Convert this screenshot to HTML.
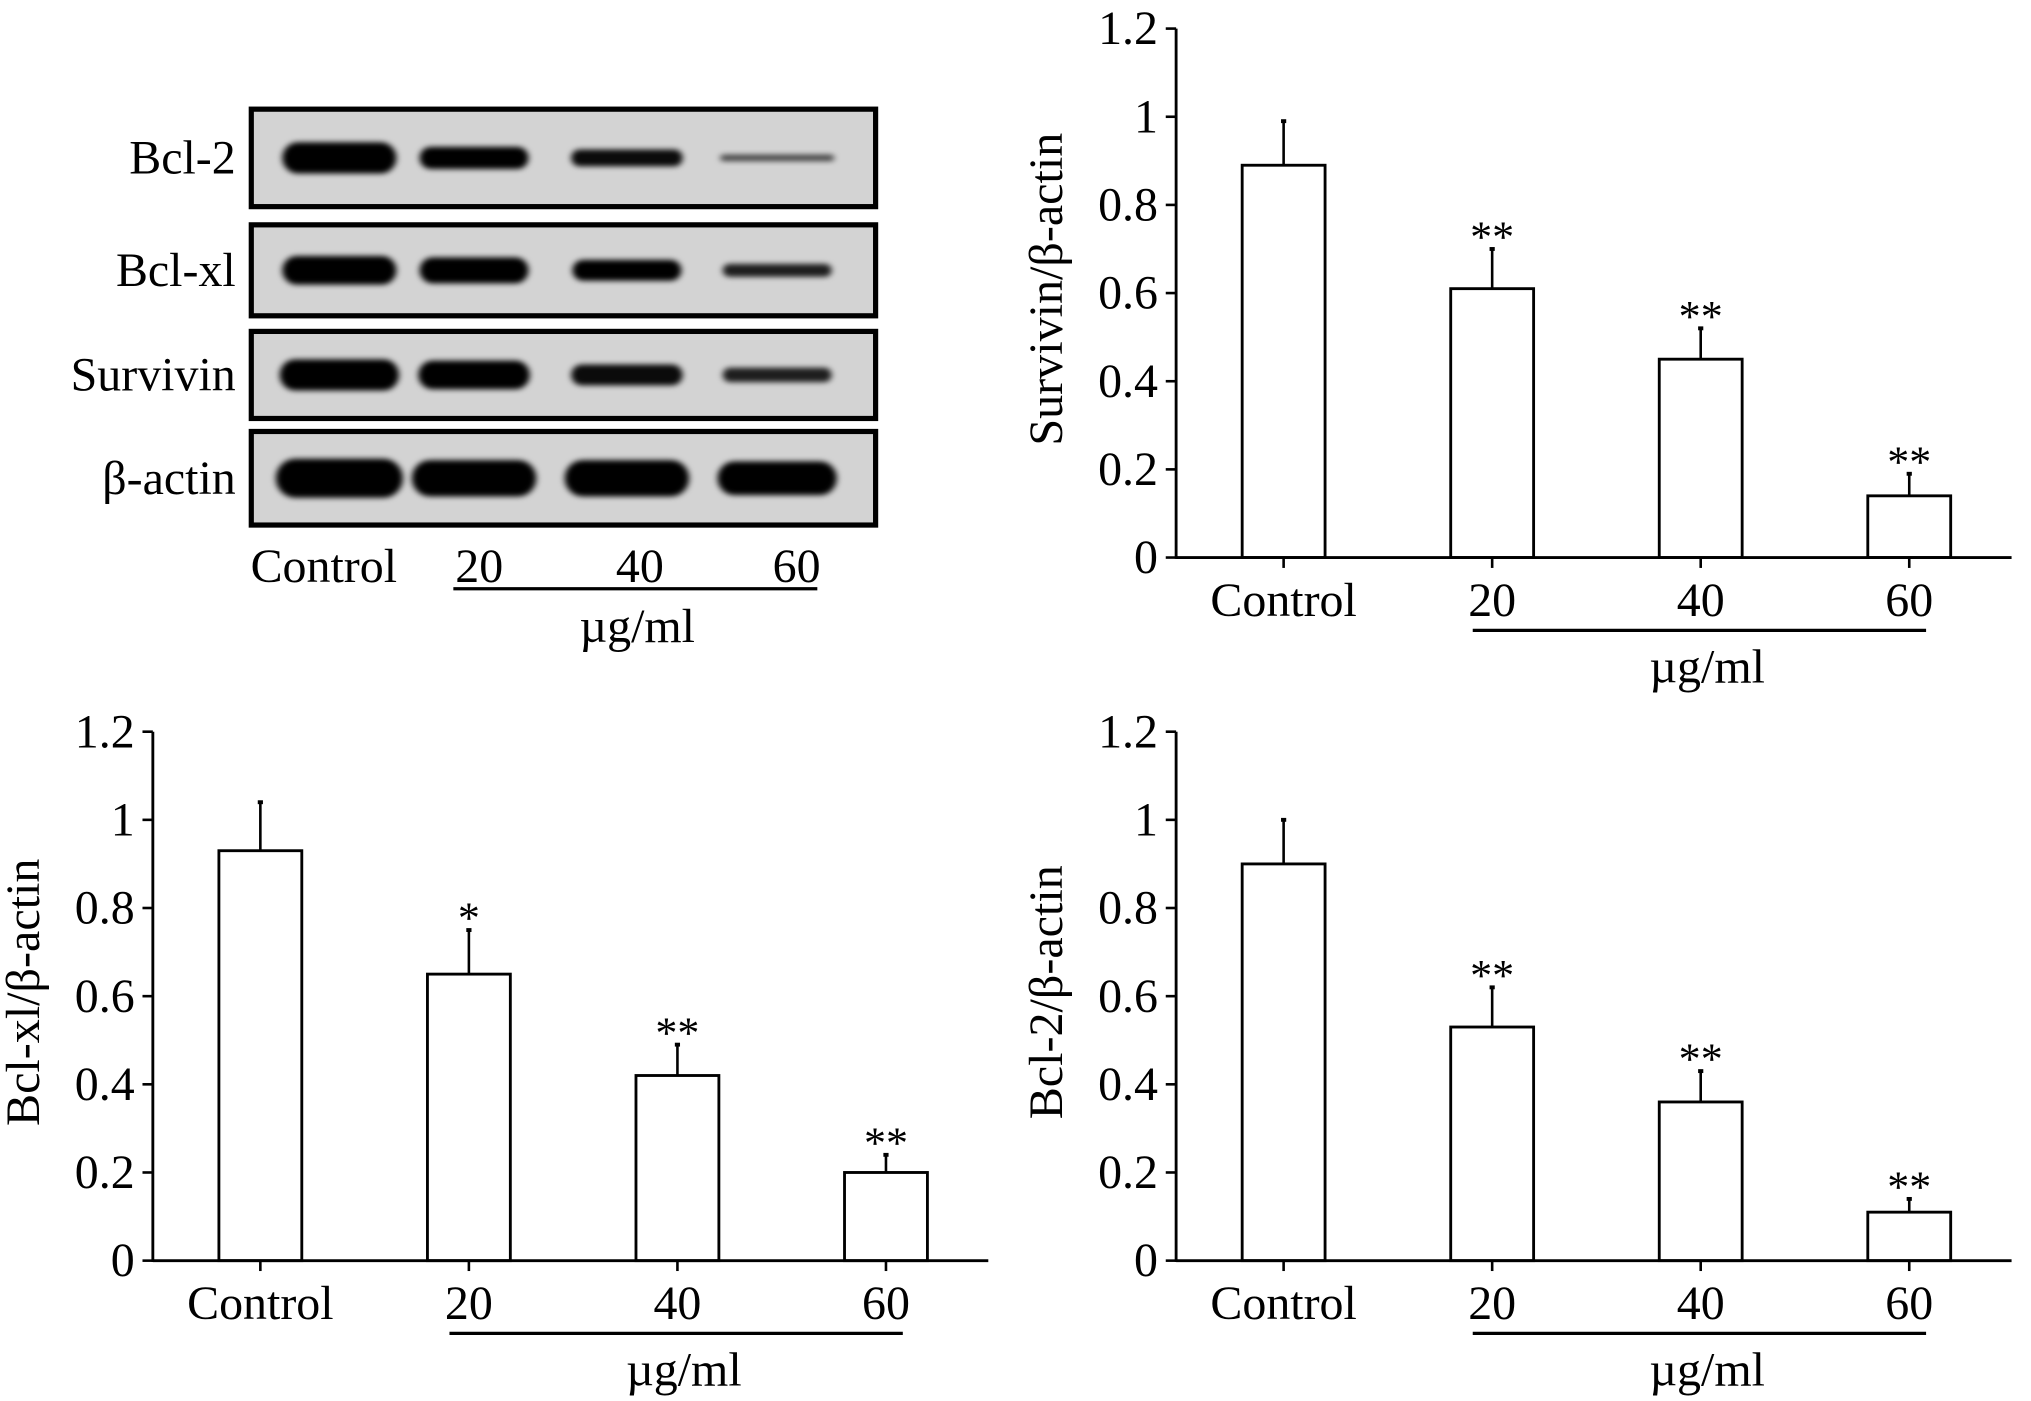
<!DOCTYPE html>
<html><head><meta charset="utf-8">
<style>
html,body{margin:0;padding:0;background:#fff;}
svg{display:block;font-family:"Liberation Serif","Times New Roman",serif;}
</style></head>
<body>
<svg id="fig" width="2031" height="1401" viewBox="0 0 1568 1078" preserveAspectRatio="none" xmlns="http://www.w3.org/2000/svg">
<defs>
<filter id="blur" x="-20%" y="-80%" width="140%" height="260%"><feGaussianBlur stdDeviation="2.5 2"/></filter>
</defs>
<g id="blot"></g>
<g id="c1"></g>
<g id="c2"></g>
<g id="c3"></g>
</svg>
<script>
const NS="http://www.w3.org/2000/svg";
const categories=["Control","20","40","60"];
const yTicks=["0","0.2","0.4","0.6","0.8","1","1.2"];
const survivinValues=[0.89,0.61,0.45,0.14];
const survivinErrors=[0.10,0.09,0.07,0.05];
const survivinStars=["","**","**","**"];
const bclxlValues=[0.93,0.65,0.42,0.20];
const bclxlErrors=[0.11,0.10,0.07,0.04];
const bclxlStars=["","*","**","**"];
const bcl2Values=[0.90,0.53,0.36,0.11];
const bcl2Errors=[0.10,0.09,0.07,0.03];
const bcl2Stars=["","**","**","**"];
const blotLabels=["Bcl-2","Bcl-xl","Survivin","β-actin"];
const blotIntensity=[[1,0.85,0.75,0.3],[0.95,0.9,0.85,0.6],[1,0.95,0.75,0.6],[1,1,1,1]];

function mk(tag,attrs,parent,text){
  const e=document.createElementNS(NS,tag);
  for(const k in attrs)e.setAttribute(k,attrs[k]);
  if(text!==undefined)e.textContent=text;
  parent.appendChild(e);return e;
}

function drawChart(gid,ax,y0,ytop,vals,errs,stars,ylabel){
  const g=document.getElementById(gid);
  const yS=v=>y0-v/1.2*(y0-ytop);
  const xS=i=>ax+83+i*161;
  const bw=64;
  for(let i=0;i<vals.length;i++){
    const cx=xS(i),top=yS(vals[i]),et=yS(vals[i]+errs[i]);
    const el=mk('line',{x1:cx,x2:cx,y1:top,y2:et,stroke:'#000','stroke-width':2},g);
    
    
    const cap=mk('line',{x1:cx-2,x2:cx+2,y1:et,y2:et,stroke:'#000','stroke-width':3},g);
    
    
    const b=mk('rect',{x:cx-bw/2,y:top,width:bw,height:y0-top,fill:'#fff',stroke:'#000','stroke-width':2.2},g);
    
    
    if(stars[i]){
      const s=mk('text',{x:cx,y:et+2,'text-anchor':'middle','font-size':34},g,stars[i]);
      
      
    }
    const t=mk('line',{x1:cx,x2:cx,y1:y0,y2:y0+8,stroke:'#000','stroke-width':2},g);
    
    
    const l=mk('text',{x:cx,y:y0+45,'text-anchor':'middle','font-size':37},g,categories[i]);
    
    
  }
  const xa=mk('line',{x1:ax,x2:ax+645,y1:y0,y2:y0,stroke:'#000','stroke-width':2.2},g);
  
  
  const ya=mk('line',{x1:ax,x2:ax,y1:ytop,y2:y0+1,stroke:'#000','stroke-width':2.2},g);
  
  
  yTicks.forEach((lab,k)=>{
    const yy=yS(parseFloat(lab));
    const t=mk('line',{x1:ax-8,x2:ax,y1:yy,y2:yy,stroke:'#000','stroke-width':2},g);
    
    
    const tl=mk('text',{x:ax-14,y:yy+12,'text-anchor':'end','font-size':37},g,lab);
    
    
  });
  const u=mk('line',{x1:xS(1)-15,x2:xS(3)+13,y1:y0+56,y2:y0+56,stroke:'#000','stroke-width':2.5},g);
  
  
  const un=mk('text',{x:xS(2)+5,y:y0+96,'text-anchor':'middle','font-size':37},g,'µg/ml');
  
  
  const cy=(y0+ytop)/2-3;
  const yl=mk('text',{x:0,y:0,'text-anchor':'middle','font-size':37,transform:`translate(${ax-88},${cy}) rotate(-90)`},g,ylabel);
  
  
}

drawChart('c1',908,429,22,survivinValues,survivinErrors,survivinStars,'Survivin/β-actin');
drawChart('c2',118,970,563,bclxlValues,bclxlErrors,bclxlStars,'Bcl-xl/β-actin');
drawChart('c3',908,970,563,bcl2Values,bcl2Errors,bcl2Stars,'Bcl-2/β-actin');

(function(){
  const g=document.getElementById('blot');
  const panels=[[82,161],[171,245],[253,324],[330,406]];
  const lanes=[262,366,484,600];
  const widths=[[88,84,86,88],[88,84,84,84],[92,86,86,84],[98,96,96,92]];
  const heights=[[24,17,13,5],[22,20,16,10],[24,22,16,11],[30,28,28,26]];
  panels.forEach((p,i)=>{
    const r=mk('rect',{x:194,y:p[0]+2,width:482,height:p[1]-p[0]-4,fill:'#d3d3d3',stroke:'#000','stroke-width':4},g);
    
    
    const cy=(p[0]+p[1])/2;
    lanes.forEach((lx,j)=>{
      const it=blotIntensity[i][j];
      const e=mk('rect',{x:lx-widths[i][j]/2,y:cy-heights[i][j]/2,width:widths[i][j],height:heights[i][j],rx:heights[i][j]/2,fill:'#000','fill-opacity':Math.min(1,0.5+0.6*it),filter:'url(#blur)'},g);
      
      
    });
    const t=mk('text',{x:182,y:cy+12,'text-anchor':'end','font-size':37},g,blotLabels[i]);
    
    
  });
  const lx=[250,370,494,615];
  categories.forEach((c,i)=>{
    const t=mk('text',{x:lx[i],y:448,'text-anchor':'middle','font-size':37},g,c);
    
    
  });
  const u=mk('line',{x1:350,x2:631,y1:453,y2:453,stroke:'#000','stroke-width':2.5},g);
  
  
  const un=mk('text',{x:492,y:494,'text-anchor':'middle','font-size':37},g,'µg/ml');
  
  
})();
</script>
</body></html>
